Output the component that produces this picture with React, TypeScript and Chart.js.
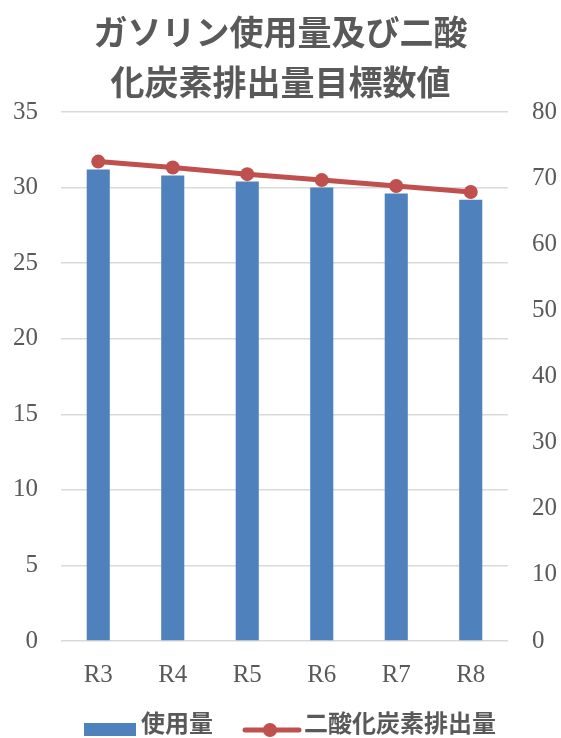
import React, { useEffect, useRef } from "react";
import { Chart, registerables } from "chart.js";

Chart.register(...registerables);

const categories = ["R3", "R4", "R5", "R6", "R7", "R8"];
const gasolineUse = [31.2, 30.8, 30.4, 30.0, 29.6, 29.2];
const co2Emission = [72.5, 71.6, 70.6, 69.7, 68.8, 67.9];
const titleLines = ["ガソリン使用量及び二酸", "化炭素排出量目標数値"];
const seriesNames = ["使用量", "二酸化炭素排出量"];

const BAR_COLOR = "#4F81BD";
const LINE_COLOR = "#C0504D";
const TEXT_COLOR = "#595959";
const GRID_COLOR = "#D9D9D9";
const CJK = "'Noto Sans CJK JP', 'Noto Sans', sans-serif";
const SERIF = "'Liberation Serif', 'DejaVu Serif', serif";

const legendPlugin = {
  id: "customLegend",
  afterDraw(chart: any) {
    const ctx = chart.ctx;
    const y = 730;
    ctx.save();
    ctx.font = `bold 24px ${CJK}`;
    ctx.textBaseline = "middle";
    // bar legend
    ctx.fillStyle = BAR_COLOR;
    ctx.fillRect(84, 723, 52, 13);
    ctx.fillStyle = TEXT_COLOR;
    ctx.fillText(chart.data.datasets[0].label, 141, 723);
    // line legend
    ctx.strokeStyle = LINE_COLOR;
    ctx.lineWidth = 5;
    ctx.lineCap = "round";
    ctx.beginPath();
    ctx.moveTo(245, y);
    ctx.lineTo(299, y);
    ctx.stroke();
    ctx.fillStyle = LINE_COLOR;
    ctx.beginPath();
    ctx.arc(270, y, 7, 0, Math.PI * 2);
    ctx.fill();
    ctx.fillStyle = TEXT_COLOR;
    ctx.fillText(chart.data.datasets[1].label, 304, 723);
    ctx.restore();
  },
};

export default function App() {
  const ref = useRef<HTMLCanvasElement>(null);
  useEffect(() => {
    document.body.style.margin = "0";
    const chart = new Chart(ref.current as HTMLCanvasElement, {
      type: "bar",
      data: {
        labels: categories,
        datasets: [
          {
            type: "bar",
            label: seriesNames[0],
            data: gasolineUse,
            backgroundColor: BAR_COLOR,
            yAxisID: "y",
            barPercentage: 0.31,
            categoryPercentage: 1,
            order: 1,
          },
          {
            type: "line",
            label: seriesNames[1],
            data: co2Emission,
            borderColor: LINE_COLOR,
            backgroundColor: LINE_COLOR,
            borderWidth: 5,
            pointRadius: 7,
            pointBackgroundColor: LINE_COLOR,
            pointBorderWidth: 0,
            yAxisID: "y1",
            order: 0,
          } as any,
        ],
      },
      options: {
        responsive: false,
        animation: false,
        layout: { padding: { top: 0, bottom: 52, left: 0, right: 0 } },
        plugins: {
          legend: { display: false },
          tooltip: { enabled: false },
          title: {
            display: true,
            text: titleLines,
            color: TEXT_COLOR,
            font: { family: CJK, size: 34, weight: "bold", lineHeight: 50 / 34 },
            padding: { top: 7, bottom: 5 },
          },
        },
        scales: {
          x: {
            grid: { display: false, drawTicks: false },
            border: { display: false },
            ticks: {
              color: TEXT_COLOR,
              font: { family: SERIF, size: 25 },
              padding: 19,
            },
            afterFit: (s: any) => {
              s.height = 45;
            },
          },
          y: {
            position: "left",
            min: 0,
            max: 35,
            ticks: {
              stepSize: 5,
              color: TEXT_COLOR,
              font: { family: SERIF, size: 25 },
              padding: 23,
            },
            grid: { color: GRID_COLOR, lineWidth: 1.5, drawTicks: false },
            border: { display: false },
            afterFit: (s: any) => {
              s.width = 61;
            },
          },
          y1: {
            position: "right",
            min: 0,
            max: 80,
            ticks: {
              stepSize: 10,
              color: TEXT_COLOR,
              font: { family: SERIF, size: 25 },
              padding: 24,
            },
            grid: { display: false, drawTicks: false },
            border: { display: false },
            afterFit: (s: any) => {
              s.width = 53;
            },
          },
        },
      },
      plugins: [legendPlugin],
    });
    return () => chart.destroy();
  }, []);
  return (
    <div style={{ position: "absolute", left: 0, top: 0, width: 561, height: 738 }}>
      <canvas ref={ref} width={561} height={738} />
    </div>
  );
}
